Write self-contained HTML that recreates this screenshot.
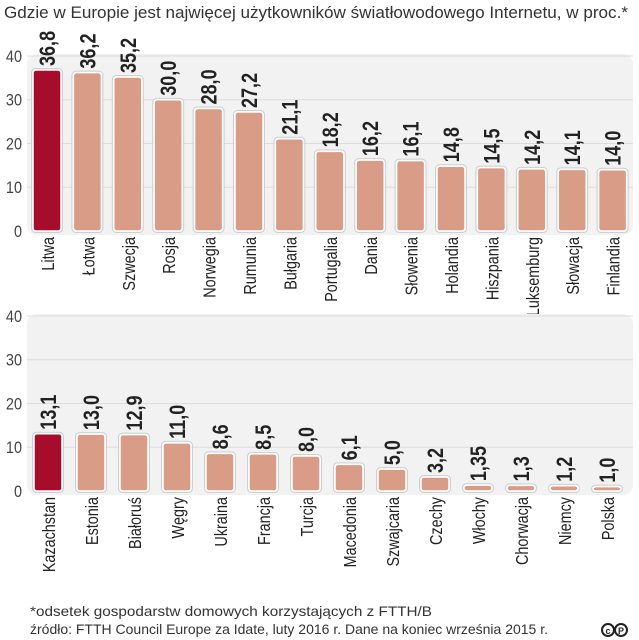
<!DOCTYPE html>
<html><head><meta charset="utf-8"><style>
body{margin:0;background:#fff;}
svg{display:block;font-family:"Liberation Sans",sans-serif;}
</style></head><body>
<svg id="c" width="639" height="640" xmlns="http://www.w3.org/2000/svg">
<text x="4" y="18" font-size="17" fill="#333" textLength="624" lengthAdjust="spacingAndGlyphs">Gdzie w Europie jest najwięcej użytkowników światłowodowego Internetu, w proc.*</text>
<text x="30" y="616" font-size="14" fill="#333" textLength="402" lengthAdjust="spacingAndGlyphs">*odsetek gospodarstw domowych korzystających z FTTH/B</text>
<text x="30" y="634" font-size="14" fill="#333" textLength="518" lengthAdjust="spacingAndGlyphs">źródło: FTTH Council Europe za Idate, luty 2016 r. Dane na koniec września 2015 r.</text>
<g>
<circle cx="608" cy="630" r="6" fill="none" stroke="#222" stroke-width="2"/><circle cx="621" cy="630" r="6" fill="none" stroke="#222" stroke-width="2"/>
<text x="608" y="634" font-size="9" font-weight="bold" text-anchor="middle" fill="#222">c</text><text x="621" y="634" font-size="9" font-weight="bold" text-anchor="middle" fill="#222">P</text>
</g>
</svg>
<script>
const cats1=["Litwa","Łotwa","Szwecja","Rosja","Norwegia","Rumunia","Bułgaria","Portugalia","Dania","Słowenia","Holandia","Hiszpania","Luksemburg","Słowacja","Finlandia"];
const vals1=[36.8,36.2,35.2,30.0,28.0,27.2,21.1,18.2,16.2,16.1,14.8,14.5,14.2,14.1,14.0];
const labels1=["36,8","36,2","35,2","30,0","28,0","27,2","21,1","18,2","16,2","16,1","14,8","14,5","14,2","14,1","14,0"];
const cats2=["Kazachstan","Estonia","Białoruś","Węgry","Ukraina","Francja","Turcja","Macedonia","Szwajcaria","Czechy","Włochy","Chorwacja","Niemcy","Polska"];
const vals2=[13.1,13.0,12.9,11.0,8.6,8.5,8.0,6.1,5.0,3.2,1.35,1.3,1.2,1.0];
const labels2=["13,1","13,0","12,9","11,0","8,6","8,5","8,0","6,1","5,0","3,2","1,35","1,3","1,2","1,0"];
const ticks=[0,10,20,30,40];
const NS="http://www.w3.org/2000/svg";
const svg=document.getElementById('c');
function mk(t,a,p){const e=document.createElementNS(NS,t);for(const k in a)e.setAttribute(k,a[k]);(p||svg).appendChild(e);return e;}
function panel(cats,vals,labels,y0,x0,step,pname){
  const g=mk('g',{});
  
  
  const y=v=>y0-v*4.375;
  mk('rect',{x:27,y:y(40)-2,width:606,height:y0-y(40)+6,rx:10,fill:'#f2f2f2'},g);
  ticks.forEach(t=>{
    if(t>0)mk('line',{x1:27,x2:633,y1:y(t),y2:y(t),stroke:'#dcdcdc','stroke-width':1},g);
    const tx=mk('text',{x:22,y:y(t)+6,'font-size':17,'text-anchor':'end',fill:'#444',transform:`translate(22,0) scale(0.85,1) translate(-22,0)`},g);tx.textContent=t;
    
    
  });
  cats.forEach((c,i)=>{
    const x=x0+i*step, w=28, top=y(vals[i]);
    const h=Math.max(y0-top,3);
    const b=mk('rect',{x:x,y:y0-h,width:w,height:h,rx:3,fill:i==0?'#a50d2a':'#d89c87',stroke:'#fff','stroke-width':1.5},g);
    
    
    mk('rect',{x:x-1.5,y:y0-h-1.5,width:w+3,height:h+3,rx:4,fill:'none',stroke:'#cfcfcf','stroke-width':1},g);
    const cx=x+w/2+8;
    const vl=mk('text',{x:0,y:0,'font-size':22,'font-weight':'bold',fill:'#222',transform:`translate(${cx},${y0-h-4}) rotate(-90) scale(0.82,1)`},g);
    vl.textContent=labels[i];
    
    
    const cl=mk('text',{x:0,y:0,'font-size':18,'text-anchor':'end',fill:'#222',transform:`translate(${cx-1},${y0+6}) rotate(-90) scale(0.8,1)`},g);
    cl.textContent=c;
    
    
  });
}
panel(cats1,vals1,labels1,231,33,40.4,'panel-top');
panel(cats2,vals2,labels2,491,34,43,'panel-bottom');
</script>
</body></html>
